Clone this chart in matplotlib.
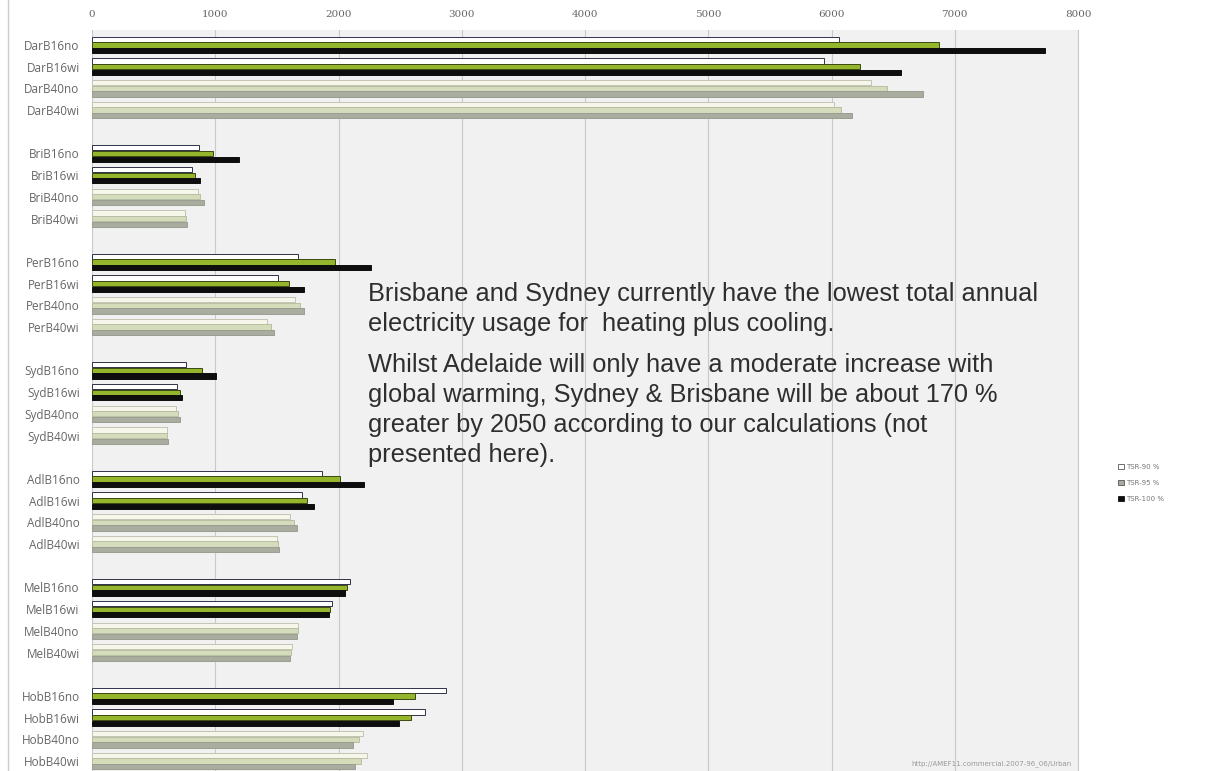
import matplotlib
matplotlib.use("Agg")
import matplotlib.pyplot as plt
from matplotlib.patches import Patch
from matplotlib.lines import Line2D

categories = ["DarB16no", "DarB16wi", "DarB40no", "DarB40wi",
              "BriB16no", "BriB16wi", "BriB40no", "BriB40wi",
              "PerB16no", "PerB16wi", "PerB40no", "PerB40wi",
              "SydB16no", "SydB16wi", "SydB40no", "SydB40wi",
              "AdlB16no", "AdlB16wi", "AdlB40no", "AdlB40wi",
              "MelB16no", "MelB16wi", "MelB40no", "MelB40wi",
              "HobB16no", "HobB16wi", "HobB40no", "HobB40wi"]

tsr90 = [6060, 5940, 6320, 6020,
         865, 810, 860, 755,
         1670, 1510, 1650, 1420,
         765, 690, 680, 605,
         1865, 1700, 1610, 1500,
         2090, 1945, 1675, 1620,
         2870, 2705, 2200, 2230]
tsr95 = [6870, 6230, 6450, 6080,
         985, 835, 880, 760,
         1970, 1600, 1690, 1450,
         895, 715, 700, 610,
         2010, 1745, 1640, 1510,
         2070, 1930, 1670, 1615,
         2620, 2585, 2170, 2180]
tsr100 = [7735, 6565, 6740, 6170,
          1195, 880, 905, 770,
          2260, 1720, 1720, 1480,
          1005, 730, 715, 620,
          2205, 1800, 1660, 1520,
          2055, 1920, 1660, 1610,
          2440, 2490, 2120, 2130]
series_names = ["TSR-90 %", "TSR-95 %", "TSR-100 %"]
x_ticks = [0, 1000, 2000, 3000, 4000, 5000, 6000, 7000, 8000]

note_lines = ["Brisbane and Sydney currently have the lowest total annual",
              "electricity usage for  heating plus cooling.",
              "Whilst Adelaide will only have a moderate increase with",
              "global warming, Sydney & Brisbane will be about 170 %",
              "greater by 2050 according to our calculations (not",
              "presented here)."]

fig = plt.figure(figsize=(12.05, 7.71), dpi=100)
fig.patch.set_facecolor("white")
ax = fig.add_axes([92/1205, 0.0, (1078-92)/1205, 1 - 30/771])
ax.set_facecolor("#f1f1f1")

# row positions: 4 rows per city, one empty slot between cities
ypos = [(i // 4) * 5 + (i % 4) for i in range(len(categories))]

h = 0.24
offs = [-0.26, 0.0, 0.26]
for i, cat in enumerate(categories):
    b40 = "B40" in cat
    if b40:
        fcs = ["#f6f6ea", "#d5dcbc", "#a9ad9f"]
        ecs = ["#c4c4b4", "#b8bfa2", "#9a9e90"]
    else:
        fcs = ["#ffffff", "#95b52c", "#0e0e0e"]
        ecs = ["#30304a", "#3a4a10", "#0e0e0e"]
    for k, vals in enumerate([tsr90, tsr95, tsr100]):
        ax.barh(ypos[i] + offs[k], vals[i], height=h, color=fcs[k],
                edgecolor=ecs[k], linewidth=0.7, zorder=3)

ax.set_xlim(0, 8000)
ax.set_ylim(33.46, -0.69)
ax.set_xticks(x_ticks)
ax.set_xticklabels([str(t) for t in x_ticks], fontsize=7.5, color="#666666",
                   family="DejaVu Serif")
ax.xaxis.tick_top()
ax.tick_params(axis="x", length=0, pad=8)
ax.set_yticks(ypos)
ax.set_yticklabels(categories, fontsize=8.5, color="#666666", family="Open Sans")
ax.tick_params(axis="y", length=0, pad=9)
ax.grid(axis="x", color="#c9c9c9", linewidth=0.8, zorder=0)
for s in ["left", "bottom", "top"]:
    ax.spines[s].set_visible(False)
ax.spines["right"].set_color("#c9c9c9")

baselines = [301, 331, 372, 402, 432, 462]
for line, yb in zip(note_lines, baselines):
    fig.text(368/1205, 1 - yb/771, line, fontsize=18.3, family="Liberation Sans",
             color="#2e2e2e", va="baseline", ha="left")

handles = [Patch(facecolor="#ffffff", edgecolor="#555555", linewidth=0.6),
           Patch(facecolor="#a9ad9f", edgecolor="#555555", linewidth=0.6),
           Patch(facecolor="#0e0e0e", edgecolor="#0e0e0e", linewidth=0.6)]
fig.legend(handles, series_names, loc="center left",
           bbox_to_anchor=(1112/1205, 1 - 483/771), frameon=False,
           fontsize=5, labelcolor="#777777", handlelength=0.8,
           handleheight=0.8, handletextpad=0.3, labelspacing=1.4)

fig.text(1072/1205, 1 - 764/771, "http://AMEF11.commercial.2007-96_06/Urban",
         fontsize=5, color="#999999", ha="right", va="center")

fig.add_artist(Line2D([8/1205, 8/1205], [0, 1], color="#cccccc", linewidth=1))

fig.savefig("out.png", dpi=100, facecolor="white")
